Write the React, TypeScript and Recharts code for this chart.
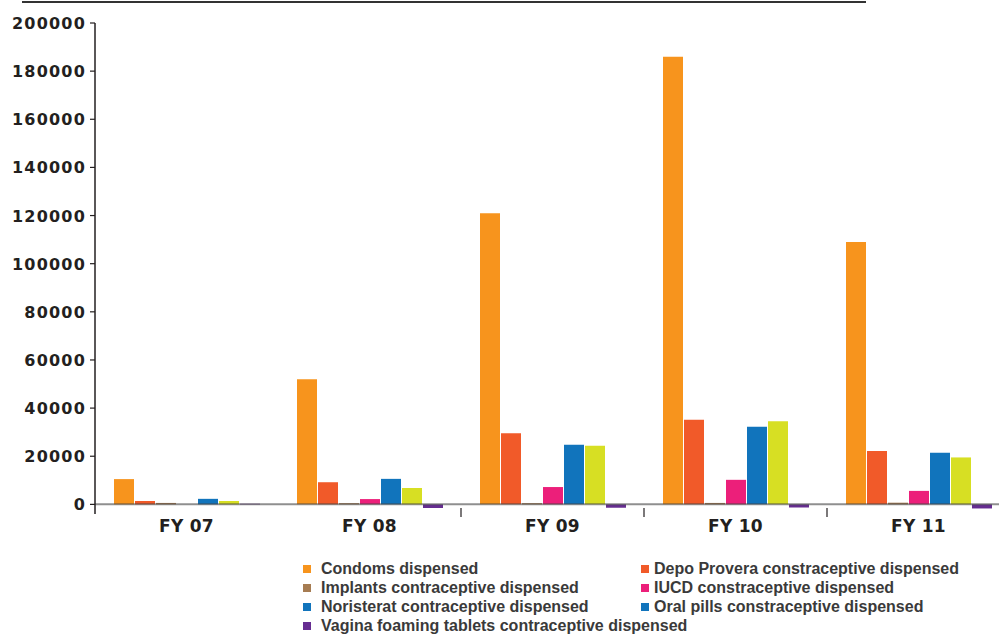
import React from "react";
import { Bar, BarChart, ReferenceLine, XAxis, YAxis } from "recharts";

const years = ["FY 07", "FY 08", "FY 09", "FY 10", "FY 11"];

const condoms = [10500, 52000, 121000, 186000, 109000];
const depoProvera = [1400, 9200, 29600, 35200, 22200];
const implants = [600, 500, 500, 600, 700];
const iucd = [0, 2200, 7200, 10200, 5600];
const noristerat = [2300, 10600, 24800, 32300, 21500];
const oralPills = [1400, 6800, 24400, 34500, 19500];
const vaginaTablets = [250, -1500, -1400, -1300, -1700];

const yTicks = [0, 20000, 40000, 60000, 80000, 100000, 120000, 140000, 160000, 180000, 200000];

const series = [
  { key: "condoms", name: "Condoms dispensed", values: condoms, color: "#F7941D", swatch: "#F7941D" },
  { key: "depo", name: "Depo Provera constraceptive dispensed", values: depoProvera, color: "#F15A29", swatch: "#F15A29" },
  { key: "implants", name: "Implants contraceptive dispensed", values: implants, color: "#A67C52", swatch: "#A67C52" },
  { key: "iucd", name: "IUCD constraceptive dispensed", values: iucd, color: "#EC1F7A", swatch: "#EC1F7A" },
  { key: "noristerat", name: "Noristerat contraceptive dispensed", values: noristerat, color: "#1174BC", swatch: "#1174BC" },
  // the printed key uses blue for oral pills even though the bars are lime
  { key: "oral", name: "Oral pills constraceptive dispensed", values: oralPills, color: "#D7DF23", swatch: "#1174BC" },
  { key: "vagina", name: "Vagina foaming tablets contraceptive dispensed", values: vaginaTablets, color: "#662D91", swatch: "#662D91" },
];

const rows = years.map((year, i) => {
  const row: Record<string, string | number> = { year };
  series.forEach((s) => {
    row[s.key] = s.values[i];
  });
  return row;
});

const INK = "#231f20";
const BAND = 183;

function YearTick(props: any) {
  const { x, y, payload, index } = props;
  return (
    <g>
      {index >= 2 && (
        <line x1={x - BAND / 2} x2={x - BAND / 2} y1={y - 14} y2={y - 5} stroke={INK} strokeWidth={1.2} />
      )}
      <text
        x={x}
        y={y + 10}
        textAnchor="middle"
        fill={INK}
        fontFamily="DejaVu Sans"
        fontWeight={700}
        fontSize={17}
        letterSpacing={0.3}
      >
        {payload.value}
      </text>
    </g>
  );
}

function ValueTick(props: any) {
  const { x, y, payload } = props;
  return (
    <text
      x={x}
      y={y + 6}
      textAnchor="end"
      fill={INK}
      fontFamily="DejaVu Sans"
      fontWeight={700}
      fontSize={16}
      letterSpacing={1.2}
    >
      {payload.value}
    </text>
  );
}

export default function App() {
  return (
    <div
      style={{
        position: "absolute",
        left: 0,
        top: 0,
        width: 999,
        height: 635,
        overflow: "hidden",
        background: "#fff",
      }}
    >
      <div style={{ position: "absolute", left: 22, top: 1, width: 844, height: 2, background: "#333" }} />
      <BarChart
        width={1010}
        height={545}
        data={rows}
        margin={{ top: 23, right: 0, left: 0, bottom: 0 }}
        barGap={1}
        barSize={20}
      >
        <XAxis dataKey="year" axisLine={false} tickLine={false} height={31} tick={<YearTick />} interval={0} />
        <YAxis
          type="number"
          domain={[-4000, 200000]}
          ticks={yTicks}
          width={95}
          axisLine={{ stroke: INK, strokeWidth: 1.5 }}
          tickLine={{ stroke: INK, strokeWidth: 1.2 }}
          tickSize={5}
          tickMargin={4}
          tick={<ValueTick />}
          interval={0}
          allowDataOverflow
        />
        {series.map((s) => (
          <Bar key={s.key} dataKey={s.key} name={s.name} fill={s.color} isAnimationActive={false} />
        ))}
        <ReferenceLine y={0} stroke="#444" strokeOpacity={0.6} strokeWidth={2} />
      </BarChart>
      <div
        style={{
          position: "absolute",
          left: 303,
          top: 559,
          display: "grid",
          gridTemplateColumns: "338px auto",
          gridAutoRows: "19px",
          fontFamily: "Liberation Sans",
          fontWeight: 700,
          fontSize: 16,
          color: "#3a3a3a",
        }}
      >
        {series.map((s, i) => (
          <div key={s.key} style={{ display: "flex", alignItems: "center", whiteSpace: "nowrap" }}>
            <span
              style={{
                display: "inline-block",
                flexShrink: 0,
                width: 8,
                height: 8,
                background: s.swatch,
                marginRight: i % 2 === 0 ? 10 : 5,
              }}
            />
            {s.name}
          </div>
        ))}
      </div>
    </div>
  );
}
